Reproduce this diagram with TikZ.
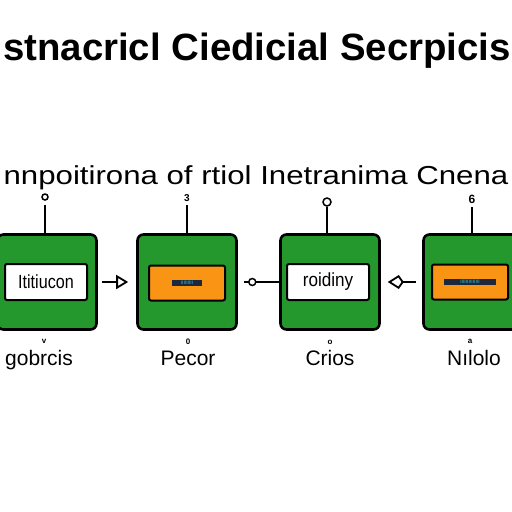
\documentclass[tikz,border=0pt]{standalone}
\usepackage{fontspec}
\setmainfont{Liberation Sans}
\usepackage{graphicx}
\usetikzlibrary{arrows.meta}
\definecolor{boxgreen}{RGB}{36,152,44}
\definecolor{boxorange}{RGB}{250,148,20}
\definecolor{stripdark}{RGB}{30,40,60}
\definecolor{stripcyan}{RGB}{40,200,210}
\tikzset{
  greenbox/.style={draw=black, line width=2.6pt, fill=boxgreen, rounded corners=6pt, minimum width=99pt, minimum height=95pt, inner sep=0pt},
  whitebox/.style={draw=black, line width=2pt, fill=white, rounded corners=2pt, minimum width=82pt, minimum height=36pt, inner sep=0pt, font=\fontsize{19}{19}\selectfont},
  orangebox/.style={draw=black, line width=2pt, fill=boxorange, rounded corners=2pt, minimum width=76pt, minimum height=35pt, inner sep=0pt},
  strip/.style={fill=stripdark, inner sep=1pt, minimum width=30pt, minimum height=6pt, text=stripcyan, font=\fontsize{5}{5}\selectfont},
  conn/.style={draw=black, line width=1.8pt},
  stem/.style={draw=black, line width=1.6pt},
  ring/.style={circle, draw=black, line width=1.5pt, fill=white, inner sep=0pt, minimum size=7pt},
  lbl/.style={font=\fontsize{21}{21}\selectfont, inner sep=0pt},
  tiny/.style={font=\bfseries\fontsize{10}{10}\selectfont, inner sep=0pt}
}
\begin{document}
\begin{tikzpicture}[x=1pt,y=-1pt]
\useasboundingbox (0,0) rectangle (512,512);
\clip (0,0) rectangle (512,512);
% title
\node[inner sep=0pt, anchor=base, font=\bfseries\fontsize{38}{38}\selectfont] (title) at (257,60) {\scalebox{1.01}[1]{stnacricl Ciedicial Secrpicis}};
\node[inner sep=0pt, anchor=base, font=\fontsize{26}{26}\selectfont] (subtitle) at (256,184) {\scalebox{1.2}[1]{nnpoitirona of rtiol Inetranima Cnena}};
% boxes
\node[greenbox] (b1) at (47,282) {};
\node[greenbox] (b2) at (187,282) {};
\node[greenbox] (b3) at (330,282) {};
\node[greenbox] (b4) at (473,282) {};
\node[whitebox] (w1) at (46,282) {\scalebox{0.85}[1]{Ititiucon}};
\node[orangebox] (o2) at (187,283) {};
\node[whitebox] (w3) at (328,282) {\scalebox{0.9}[1]{roidiny}};
\node[orangebox] (o4) at (470,282) {};
\node[strip] (s2) at (o2) {IIIIIIIII};
\node[strip, minimum width=52pt] (s4) at (o4) {IIIIIIIIIIIIII};
% connectors
\draw[conn, -{Triangle[open, length=12pt, width=14pt, line width=1.8pt]}, shorten <=4pt, shorten >=8pt] (b1.east) -- (b2.west);
\draw[conn, shorten <=6pt] (b2.east) -- node[ring, pos=0.35] (r2) {} (b3.west);
\draw[conn, {Kite[open, length=16pt, width=14pt, inset=5pt, line width=1.8pt]}-, shorten <=7pt, shorten >=6pt] (b3.east) -- (b4.west);
% stems
\node[ring, minimum size=6pt] (c1) at (45,197) {};
\draw[stem] (c1.south) ++(0,4) coordinate (c1s) -- (c1s |- b1.north);
\node[tiny] (n2) at (187,198) {3};
\draw[stem] (n2.south) ++(0,3) coordinate (n2s) -- (n2s |- b2.north);
\node[ring, minimum size=8pt] (c3) at (327,202) {};
\draw[stem] (c3.south) -- (c3.south |- b3.north);
\node[tiny, font=\bfseries\fontsize{12}{12}\selectfont] (n4) at (472,199) {6};
\draw[stem] (n4.south) ++(0,4) coordinate (n4s) -- (n4s |- b4.north);
% bottom marks and labels
\node[tiny, font=\bfseries\fontsize{8}{8}\selectfont] (m1) at (44,341) {v};
\node[tiny, font=\bfseries\fontsize{8}{8}\selectfont] (m2) at (188,342) {0};
\node[tiny, font=\bfseries\fontsize{8}{8}\selectfont] (m3) at (330,342) {o};
\node[tiny, font=\bfseries\fontsize{8}{8}\selectfont] (m4) at (470,341) {a};
\node[lbl, anchor=base] (l1) at (39,365) {gobrcis};
\node[lbl, anchor=base] (l2) at (188,365) {Pecor};
\node[lbl, anchor=base] (l3) at (330,365) {Crios};
\node[lbl, anchor=base] (l4) at (474,365) {Nılolo};
\end{tikzpicture}
\end{document}
